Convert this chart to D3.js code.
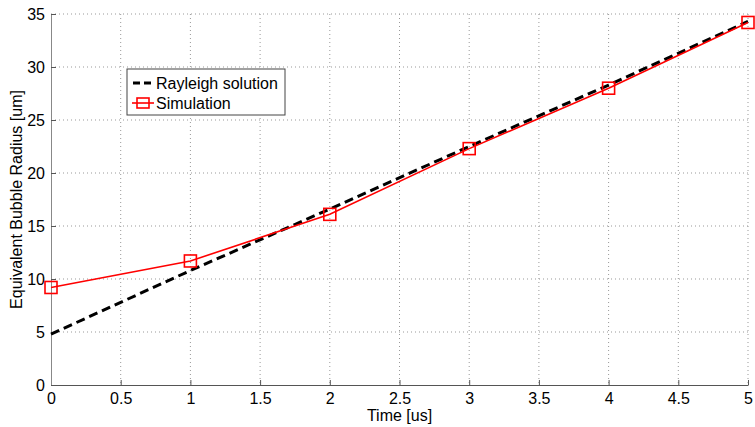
<!DOCTYPE html>
<html>
<head>
<meta charset="utf-8">
<script src="https://cdn.jsdelivr.net/npm/d3@7"></script>
<style>
  body { margin: 0; background: #fff; }
  text { font-family: "Liberation Sans", Arial, sans-serif; }
</style>
</head>
<body>
<div id="chart"></div>
<script>
// data
const timeUs = [0, 1, 2, 3, 4, 5];
const rayleigh = [4.8, 10.8, 16.6, 22.5, 28.3, 34.3];
const simulation = [9.2, 11.7, 16.1, 22.3, 28.0, 34.2];
const xTicks = [0, 0.5, 1, 1.5, 2, 2.5, 3, 3.5, 4, 4.5, 5];
const yTicks = [0, 5, 10, 15, 20, 25, 30, 35];
const seriesNames = ['Rayleigh solution', 'Simulation'];

const W = 755, H = 427;
const m = {left: 51, right: 7, top: 14, bottom: 42};
const pw = W - m.left - m.right, ph = H - m.top - m.bottom;
const fs = 16;

let svg = d3.select('#chart').append('svg')
    .attr('width', W).attr('height', H);

let g = svg.append('g').attr('transform', `translate(${m.left},${m.top})`);

let x = d3.scaleLinear().domain([0, 5]).range([0, pw]);
let y = d3.scaleLinear().domain([0, 35]).range([ph, 0]);

// grid
g.append('g').selectAll('line').data(xTicks.slice(1)).enter().append('line')
    .attr('x1', d => x(d)).attr('x2', d => x(d))
    .attr('y1', 0).attr('y2', ph)
    .attr('stroke', '#999').attr('stroke-width', 1)
    .attr('stroke-dasharray', '1,3');
g.append('g').selectAll('line').data(yTicks.slice(1)).enter().append('line')
    .attr('y1', d => y(d)).attr('y2', d => y(d))
    .attr('x1', 0).attr('x2', pw)
    .attr('stroke', '#999').attr('stroke-width', 1)
    .attr('stroke-dasharray', '1,3');

// axes
let xAxis = g.append('g').attr('transform', `translate(0,${ph})`)
    .call(d3.axisBottom(x).tickValues(xTicks).tickSizeInner(-5).tickSizeOuter(0).tickPadding(8)
        .tickFormat(d3.format('')));
let yAxis = g.append('g')
    .call(d3.axisLeft(y).tickValues(yTicks).tickSizeInner(-5).tickSizeOuter(0).tickPadding(6));
[xAxis, yAxis].forEach(a => {
    a.select('.domain').attr('stroke', '#555');
    a.selectAll('.tick line').attr('stroke', '#555');
    a.selectAll('text').attr('font-size', fs).attr('fill', '#000')
        .attr('font-family', '"Liberation Sans", Arial, sans-serif');
});
yAxis.select('.domain').attr('stroke', '#888');

// lines
let line = d3.line().x((d, i) => x(timeUs[i])).y(d => y(d));

g.append('path').datum(rayleigh)
    .attr('d', line).attr('fill', 'none')
    .attr('stroke', '#000').attr('stroke-width', 3)
    .attr('stroke-dasharray', '9,5');

g.append('path').datum(simulation)
    .attr('d', line).attr('fill', 'none')
    .attr('stroke', 'red').attr('stroke-width', 1.6);

const ms = 12;
g.append('g').selectAll('rect').data(simulation).enter().append('rect')
    .attr('x', (d, i) => x(timeUs[i]) - ms / 2)
    .attr('y', d => y(d) - ms / 2)
    .attr('width', ms).attr('height', ms)
    .attr('fill', 'none').attr('stroke', 'red').attr('stroke-width', 1.6);

// legend
let lg = svg.append('g').attr('transform', 'translate(127,69)');
lg.append('rect').attr('width', 158).attr('height', 46)
    .attr('fill', '#fff').attr('stroke', '#444').attr('stroke-width', 1);

let rows = lg.selectAll('g.row').data(seriesNames).enter().append('g')
    .attr('class', 'row')
    .attr('transform', (d, i) => `translate(0,${14 + i * 20})`);

rows.filter((d, i) => i == 0).append('line')
    .attr('x1', 6).attr('x2', 25).attr('y1', 0).attr('y2', 0)
    .attr('stroke', '#000').attr('stroke-width', 3).attr('stroke-dasharray', '7,4');
rows.filter((d, i) => i == 1).append('line')
    .attr('x1', 5).attr('x2', 27).attr('y1', 0).attr('y2', 0)
    .attr('stroke', 'red').attr('stroke-width', 1.6);
rows.filter((d, i) => i == 1).append('rect')
    .attr('x', 16 - ms / 2).attr('y', -ms / 2 + 1).attr('width', ms).attr('height', ms - 2)
    .attr('fill', 'none').attr('stroke', 'red').attr('stroke-width', 1.6);

rows.append('text')
    .attr('x', 29).attr('y', 0).attr('dy', '0.35em')
    .attr('font-size', fs).text(d => d);

// axis labels
svg.append('text')
    .attr('x', m.left + pw / 2).attr('y', 421)
    .attr('text-anchor', 'middle').attr('font-size', fs)
    .text('Time [us]');
svg.append('text')
    .attr('transform', `translate(22,${m.top + ph / 2}) rotate(-90)`)
    .attr('text-anchor', 'middle').attr('font-size', fs)
    .text('Equivalent Bubble Radius [um]');
</script>
</body>
</html>
